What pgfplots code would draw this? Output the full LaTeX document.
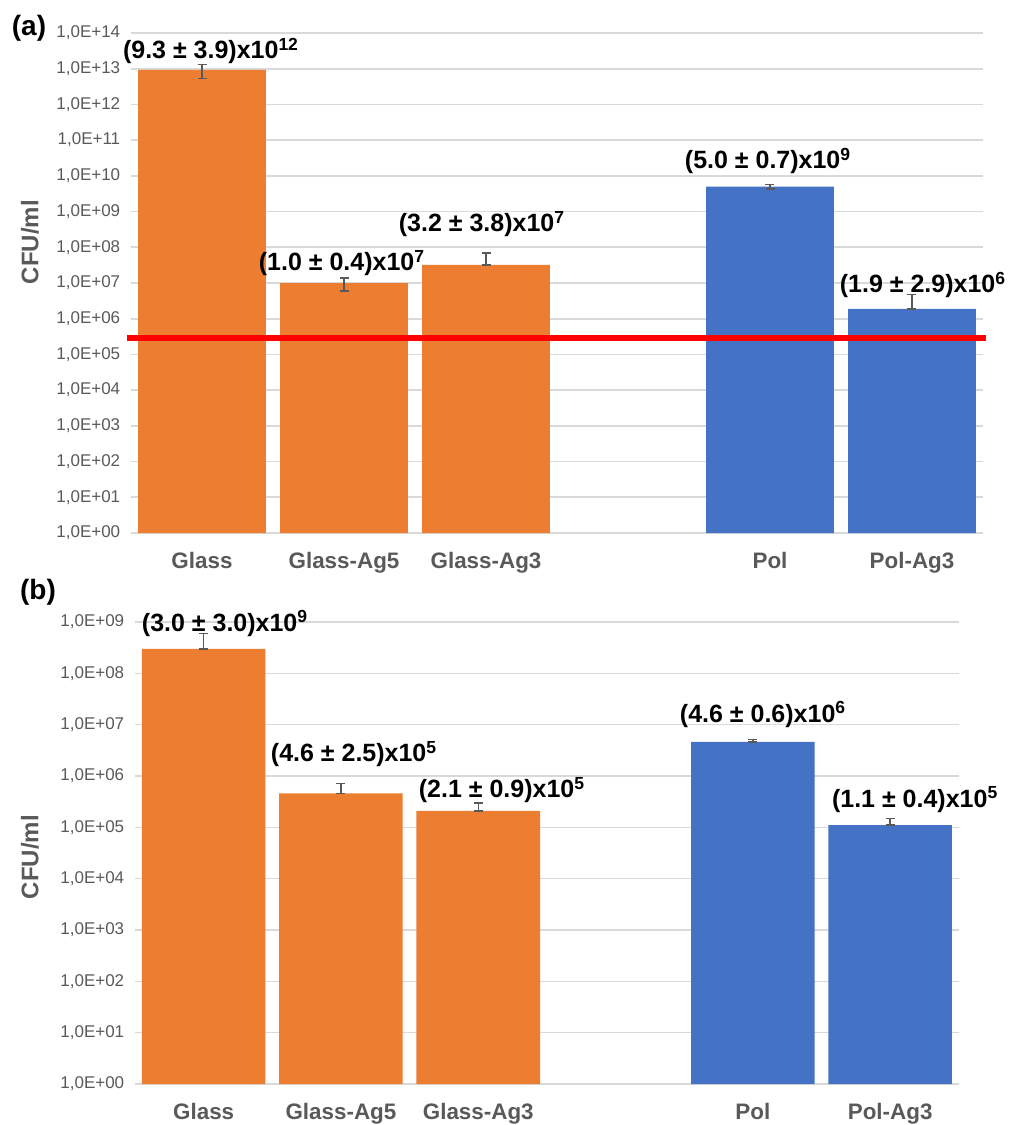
\documentclass[border=0pt]{standalone}
\usepackage{fontspec}
\setmainfont{Liberation Sans}
\usepackage{pgfplots}
\pgfplotsset{compat=1.18}

\definecolor{xlorange}{HTML}{ED7D31}
\definecolor{xlblue}{HTML}{4472C4}
\definecolor{xlgrid}{HTML}{D9D9D9}
\definecolor{xltext}{HTML}{595959}

\pgfplotsset{every axis/.append style={
    scale only axis,
    ymode=log,
    ymin=1,
    xmin=-0.5, xmax=5.5,
    axis line style={draw=none},
    ymajorgrids=true,
    grid style={xlgrid, line width=0.8pt},
    major tick length=0pt,
    minor tick length=0pt,
    tick style={draw=none},
    xtick={0,1,2,4,5},
    xticklabels={Glass,Glass-Ag5,Glass-Ag3,Pol,Pol-Ag3},
    xticklabel style={font=\fontsize{11.2}{13}\selectfont\bfseries, color=xltext,
      anchor=base, inner sep=0pt, yshift=-17.5pt},
    yticklabel={\pgfmathtruncatemacro{\e}{round(\tick/2.302585)}1,0E+\ifnum\e<10 0\fi\e},
    yticklabel style={font=\fontsize{8.5}{10}\selectfont, color=xltext,
      anchor=east, inner sep=0pt, xshift=-5.2pt},
    clip=false,
    ybar, bar width=0.9,
}}
\pgfplotsset{
  xlbar/.style={bar shift=0pt, draw=none, fill=#1,
    error bars/.cd, y dir=both, y explicit,
    error bar style={color=xltext, line width=0.75pt},
    error mark options={rotate=90, color=xltext, mark size=2.25pt, line width=0.75pt}},
}
\tikzset{dlabel/.style={font=\fontsize{12.5}{14}\selectfont\bfseries, inner sep=0pt}}

\begin{document}
\begin{tikzpicture}
\useasboundingbox (0,0) rectangle (507.5pt,-562.5pt);

% ---------- (a)
\begin{axis}[
  at={(65.5pt,-266.5pt)}, anchor=south west,
  width=426pt, height=250pt,
  ymax=1e14,
  ytick={1,1e1,1e2,1e3,1e4,1e5,1e6,1e7,1e8,1e9,1e10,1e11,1e12,1e13,1e14},
]
\draw[xlgrid, line width=0.8pt] (rel axis cs:0,0) -- (rel axis cs:1,0);
\addplot[xlbar=xlorange] coordinates {
  (0,9.3e12) += (0,3.9e12) -= (0,3.9e12)
  (1,1.0e7)  += (0,0.4e7)  -= (0,0.4e7)
  (2,3.2e7)  += (0,3.8e7)  -= (0,0)
};
\addplot[xlbar=xlblue] coordinates {
  (4,5.0e9) += (0,0.7e9) -= (0,0.7e9)
  (5,1.9e6) += (0,2.9e6) -= (0,0)
};
\addplot[sharp plot, red, line width=3pt, forget plot]
  coordinates {(-0.53,2.9e5) (5.52,2.9e5)};
\node[dlabel] at (rel axis cs:0.0939,0.964) {(9.3 ± 3.9)x10\textsuperscript{12}};
\node[dlabel] at (rel axis cs:0.2476,0.540) {(1.0 ± 0.4)x10\textsuperscript{7}};
\node[dlabel] at (rel axis cs:0.4120,0.618) {(3.2 ± 3.8)x10\textsuperscript{7}};
\node[dlabel] at (rel axis cs:0.7477,0.744) {(5.0 ± 0.7)x10\textsuperscript{9}};
\node[dlabel] at (rel axis cs:0.9296,0.496) {(1.9 ± 2.9)x10\textsuperscript{6}};
\end{axis}

% ---------- (b)
\begin{axis}[
  at={(67.5pt,-542pt)}, anchor=south west,
  width=411.9pt, height=231pt,
  ymax=1e9,
  ytick={1,1e1,1e2,1e3,1e4,1e5,1e6,1e7,1e8,1e9},
]
\draw[xlgrid, line width=0.8pt] (rel axis cs:0,0) -- (rel axis cs:1,0);
\addplot[xlbar=xlorange] coordinates {
  (0,3.0e8) += (0,3.0e8) -= (0,0)
  (1,4.6e5) += (0,2.5e5) -= (0,0)
  (2,2.1e5) += (0,0.9e5) -= (0,0)
};
\addplot[xlbar=xlblue] coordinates {
  (4,4.6e6) += (0,0.6e6) -= (0,0)
  (5,1.1e5) += (0,0.4e5) -= (0,0)
};
\node[dlabel] at (rel axis cs:0.1093,0.997) {(3.0 ± 3.0)x10\textsuperscript{9}};
\node[dlabel] at (rel axis cs:0.2659,0.714) {(4.6 ± 2.5)x10\textsuperscript{5}};
\node[dlabel] at (rel axis cs:0.4455,0.636) {(2.1 ± 0.9)x10\textsuperscript{5}};
\node[dlabel] at (rel axis cs:0.7624,0.800) {(4.6 ± 0.6)x10\textsuperscript{6}};
\node[dlabel] at (rel axis cs:0.9470,0.615) {(1.1 ± 0.4)x10\textsuperscript{5}};
\end{axis}

% ---------- panel letters and axis titles
\node[font=\fontsize{14}{16}\selectfont\bfseries] at (14.5pt,-14pt) {(a)};
\node[font=\fontsize{14}{16}\selectfont\bfseries] at (19pt,-296pt) {(b)};
\node[font=\fontsize{12}{14}\selectfont\bfseries, color=xltext, rotate=90] at (15pt,-121pt) {CFU/ml};
\node[font=\fontsize{12}{14}\selectfont\bfseries, color=xltext, rotate=90] at (15pt,-428.5pt) {CFU/ml};
\end{tikzpicture}
\end{document}
